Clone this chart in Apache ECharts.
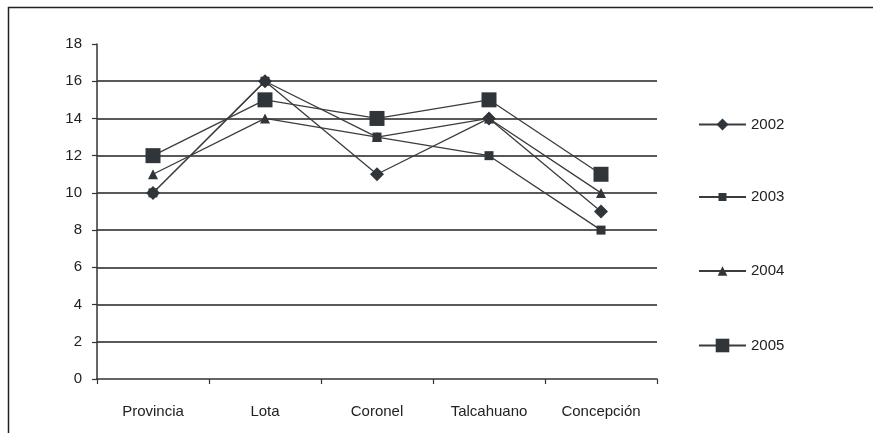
<!DOCTYPE html>
<html><head><meta charset="utf-8">
<script src="https://cdn.jsdelivr.net/npm/echarts@6/dist/echarts.min.js"></script>
<style>html,body{margin:0;padding:0;background:#fff}#c{width:873px;height:433px}</style>
</head><body><div id="c"></div>
<script>
const categories = ['Provincia', 'Lota', 'Coronel', 'Talcahuano', 'Concepción'];
const seriesNames = ['2002', '2003', '2004', '2005'];
const v2002 = [10, 16, 11, 14, 9];
const v2003 = [10, 16, 13, 12, 8];
const v2004 = [11, 14, 13, 14, 10];
const v2005 = [12, 15, 14, 15, 11];
const yTicks = [0, 2, 4, 6, 8, 10, 12, 14, 16, 18];

const symbols = ['diamond', 'rect', 'triangle', 'rect'];
const sizes = [14, 9, 10, 15];
const legendSymbolH = [15, 10, 12, 17];
const legendCenters = [125, 195, 270, 347];
const values = [v2002, v2003, v2004, v2005];
const lineColor = '#3c3c3c';
const markColor = '#30353a';
const font = '"Liberation Sans", Arial, sans-serif';
const fs = 15;

const chart = echarts.init(document.getElementById('c'), null, {renderer: 'canvas'});
chart.setOption({
  animation: false,
  backgroundColor: '#fff',
  graphic: [{
    type: 'polyline', silent: true,
    shape: {points: [[8.5, 433], [8.5, 7.5], [873, 7.5]]},
    style: {stroke: '#222', lineWidth: 1.5, fill: null}
  }],
  grid: {left: 97, right: 216, top: 44, bottom: 54, containLabel: false},
  legend: seriesNames.map((n, i) => ({
    orient: 'vertical', left: 698, top: legendCenters[i] - legendSymbolH[i] / 2 - 0.5, padding: 0,
    itemWidth: 47, itemHeight: legendSymbolH[i], itemGap: 5,
    textStyle: {fontFamily: font, fontSize: fs, color: '#222'},
    data: [n]
  })),
  xAxis: {
    type: 'category', data: categories, boundaryGap: true,
    axisLine: {lineStyle: {color: '#333', width: 1.5}},
    axisTick: {show: true, interval: 0, length: 5, inside: false, lineStyle: {color: '#333', width: 1.2}},
    axisLabel: {interval: 0, fontFamily: font, fontSize: fs, color: '#222', margin: 25},
    splitLine: {show: false}
  },
  yAxis: {
    type: 'value', min: yTicks[0], max: yTicks[yTicks.length - 1], interval: 2,
    axisLine: {show: true, lineStyle: {color: '#333', width: 1.5}},
    axisTick: {show: true, length: 5, lineStyle: {color: '#333', width: 1.2}},
    axisLabel: {fontFamily: font, fontSize: fs, color: '#222', margin: 15},
    splitLine: {show: true, showMaxLine: false, showMinLine: false, lineStyle: {color: '#222', width: 1.6}}
  },
  series: seriesNames.map((n, i) => ({
    name: n, type: 'line', data: values[i],
    symbol: symbols[i], symbolSize: sizes[i], showAllSymbol: true,
    lineStyle: {color: lineColor, width: 1.3},
    itemStyle: {color: markColor, borderWidth: 0},
    z: 2 + i
  }))
});
</script></body></html>
